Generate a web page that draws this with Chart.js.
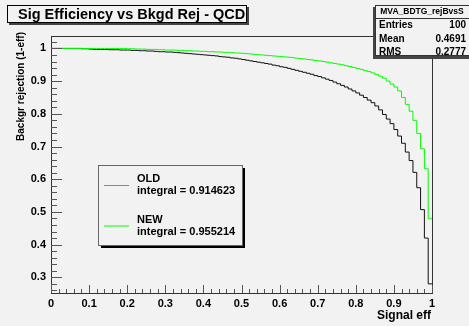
<!DOCTYPE html>
<html>
<head>
<meta charset="utf-8">
<script src="https://cdn.jsdelivr.net/npm/chart.js@4.4.1/dist/chart.umd.min.js"></script>
<style>
  html, body { margin: 0; padding: 0; background: #f2f2f2; }
</style>
</head>
<body>
<canvas id="rejChart" width="469" height="326"></canvas>
<script>
// histogram: 100 bins of signal efficiency, width 0.01
const BIN_WIDTH = 0.01;

const OLD_REJ = [
  1.000, 1.000, 1.000, 1.000, 1.000, 1.000, 1.000, 1.000, 0.999, 0.999,
  0.998, 0.997, 0.997, 0.997, 0.997, 0.996, 0.996, 0.996, 0.995, 0.995,
  0.995, 0.994, 0.994, 0.993, 0.993, 0.992, 0.992, 0.991, 0.990, 0.990,
  0.989, 0.989, 0.988, 0.987, 0.986, 0.985, 0.984, 0.983, 0.982, 0.981,
  0.980, 0.979, 0.978, 0.977, 0.975, 0.974, 0.973, 0.971, 0.970, 0.968,
  0.966, 0.964, 0.962, 0.960, 0.958, 0.956, 0.954, 0.952, 0.949, 0.947,
  0.944, 0.942, 0.939, 0.936, 0.933, 0.930, 0.927, 0.924, 0.921, 0.917,
  0.914, 0.910, 0.906, 0.902, 0.897, 0.892, 0.887, 0.882, 0.876, 0.870,
  0.864, 0.857, 0.850, 0.842, 0.834, 0.824, 0.812, 0.798, 0.784, 0.770,
  0.752, 0.732, 0.710, 0.683, 0.657, 0.621, 0.574, 0.507, 0.420, 0.280
];

const NEW_REJ = [
  1.000, 1.000, 1.000, 1.000, 1.000, 1.000, 1.000, 1.000, 1.000, 1.000,
  1.000, 1.000, 1.000, 1.000, 1.000, 1.000, 1.000, 1.000, 1.000, 1.000,
  0.999, 0.999, 0.998, 0.998, 0.998, 0.997, 0.997, 0.997, 0.996, 0.996,
  0.995, 0.995, 0.995, 0.994, 0.994, 0.993, 0.993, 0.992, 0.992, 0.991,
  0.991, 0.990, 0.990, 0.989, 0.989, 0.988, 0.988, 0.987, 0.986, 0.986,
  0.985, 0.984, 0.983, 0.982, 0.981, 0.980, 0.979, 0.978, 0.977, 0.976,
  0.975, 0.974, 0.973, 0.972, 0.970, 0.969, 0.968, 0.966, 0.965, 0.963,
  0.962, 0.960, 0.958, 0.956, 0.954, 0.952, 0.950, 0.947, 0.945, 0.942,
  0.939, 0.936, 0.932, 0.929, 0.925, 0.920, 0.915, 0.909, 0.900, 0.891,
  0.882, 0.870, 0.850, 0.829, 0.808, 0.780, 0.740, 0.693, 0.632, 0.479
];

const X_TICKS = [0, 0.1, 0.2, 0.3, 0.4, 0.5, 0.6, 0.7, 0.8, 0.9, 1];
const Y_TICKS = [0.3, 0.4, 0.5, 0.6, 0.7, 0.8, 0.9, 1];

const TITLE = "Sig Efficiency vs Bkgd Rej - QCD";
const X_TITLE = "Signal eff";
const Y_TITLE = "Backgr rejection (1-eff)";
const LEGEND_ITEMS = [
  { name: "OLD", text: "integral = 0.914623", color: "#888888" },
  { name: "NEW", text: "integral = 0.955214", color: "#00ff00" }
];
const STATS_NAME = "MVA_BDTG_rejBvsS";
const STATS_ROWS = [["Entries", "100"], ["Mean", "0.4691"], ["RMS", "0.2777"]];

const FONT = "'Liberation Sans', Arial, sans-serif";
const BG = "#f2f2f2";

// left bin edges plus closing edge at 1
function toSteps(values) {
  const pts = values.map((v, i) => ({ x: i * BIN_WIDTH, y: v }));
  pts.push({ x: values.length * BIN_WIDTH, y: values[values.length - 1] });
  return pts;
}

function fmt(v) {
  return String(+v.toFixed(1));
}

const rootDecor = {
  id: "rootDecor",
  afterDraw(chart) {
    const ctx = chart.ctx;
    const area = chart.chartArea;
    const xs = chart.scales.x;
    const ys = chart.scales.y;
    ctx.save();

    // frame
    ctx.strokeStyle = "#333";
    ctx.lineWidth = 1;
    ctx.strokeRect(Math.round(area.left) + 0.5, Math.round(area.top) + 0.5,
      Math.round(area.right - area.left), Math.round(area.bottom - area.top));

    // tick marks, pointing inward
    ctx.strokeStyle = "#555";
    ctx.beginPath();
    for (let k = 13; k <= 51; k++) {
      const y = Math.round(ys.getPixelForValue(k * 0.02)) + 0.5;
      const len = k % 5 === 0 ? 11 : 6;
      ctx.moveTo(area.left, y);
      ctx.lineTo(area.left + len, y);
    }
    for (let k = 0; k <= 50; k++) {
      const x = Math.round(xs.getPixelForValue(k * 0.02)) + 0.5;
      const len = k % 5 === 0 ? 8 : 4;
      ctx.moveTo(x, area.bottom);
      ctx.lineTo(x, area.bottom - len);
    }
    ctx.stroke();

    // axis titles
    ctx.fillStyle = "#000";
    ctx.font = "bold 12px " + FONT;
    ctx.textAlign = "right";
    ctx.textBaseline = "middle";
    ctx.fillText(X_TITLE, 431, 316);
    ctx.save();
    ctx.translate(21, 32);
    ctx.rotate(-Math.PI / 2);
    ctx.font = "bold 10px " + FONT;
    ctx.fillText(Y_TITLE, 0, 0);
    ctx.restore();

    // title box
    ctx.fillStyle = "#444";
    ctx.fillRect(9, 7, 240, 18);
    ctx.fillStyle = BG;
    ctx.fillRect(7, 5, 240, 18);
    ctx.strokeStyle = "#000";
    ctx.strokeRect(7.5, 5.5, 239, 17);
    ctx.fillStyle = "#000";
    ctx.font = "bold 14.5px " + FONT;
    ctx.textAlign = "left";
    ctx.textBaseline = "alphabetic";
    ctx.fillText(TITLE, 18, 19);

    // stats box
    ctx.fillStyle = "#444";
    ctx.fillRect(373, 7, 96, 52);
    ctx.fillStyle = BG;
    ctx.fillRect(375, 5, 95, 51);
    ctx.strokeStyle = "#333";
    ctx.strokeRect(375.5, 5.5, 95, 50);
    ctx.beginPath();
    ctx.moveTo(375, 18.5);
    ctx.lineTo(469, 18.5);
    ctx.stroke();
    ctx.fillStyle = "#000";
    ctx.textBaseline = "middle";
    ctx.textAlign = "center";
    ctx.font = "bold 8.5px " + FONT;
    ctx.fillText(STATS_NAME, 422, 12);
    ctx.font = "bold 10px " + FONT;
    STATS_ROWS.forEach((row, i) => {
      const y = 25.5 + i * 13.3;
      ctx.textAlign = "left";
      ctx.fillText(row[0], 379, y);
      ctx.textAlign = "right";
      ctx.fillText(row[1], 466, y);
    });

    // legend box
    ctx.fillStyle = "#000";
    ctx.fillRect(101, 168, 144, 80);
    ctx.fillStyle = BG;
    ctx.fillRect(98, 165, 144, 80);
    ctx.strokeStyle = "#666";
    ctx.strokeRect(98.5, 165.5, 144, 80);
    ctx.font = "bold 11px " + FONT;
    ctx.textAlign = "left";
    LEGEND_ITEMS.forEach((item, i) => {
      const y0 = 179 + i * 40.5;
      ctx.strokeStyle = item.color;
      ctx.beginPath();
      ctx.moveTo(104, y0 + 6.5);
      ctx.lineTo(129, y0 + 6.5);
      ctx.stroke();
      ctx.fillStyle = "#000";
      ctx.fillText(item.name, 137, y0);
      ctx.fillText(item.text, 137, y0 + 12);
    });

    ctx.restore();
  }
};

const chart = new Chart(document.getElementById("rejChart").getContext("2d"), {
  type: "line",
  data: {
    datasets: [
      {
        label: "NEW",
        data: toSteps(NEW_REJ),
        borderColor: "#00ff00",
        borderWidth: 1,
        pointRadius: 0,
        stepped: true,
        fill: false,
        order: 0
      },
      {
        label: "OLD",
        data: toSteps(OLD_REJ),
        borderColor: "#111",
        borderWidth: 1,
        pointRadius: 0,
        stepped: true,
        fill: false,
        order: 1
      }
    ]
  },
  options: {
    responsive: false,
    animation: false,
    layout: { padding: { top: 36, right: 37, left: 0, bottom: 0 } },
    plugins: {
      legend: { display: false },
      tooltip: { enabled: false }
    },
    scales: {
      x: {
        type: "linear",
        min: 0,
        max: 1,
        afterFit: s => { s.height = 33; },
        afterBuildTicks: s => { s.ticks = X_TICKS.map(v => ({ value: v })); },
        grid: { display: false, drawTicks: false },
        border: { display: false },
        ticks: {
          padding: 4,
          maxRotation: 0,
          autoSkip: false,
          color: "#000",
          font: { family: FONT, size: 11, weight: "bold" },
          callback: v => fmt(v)
        }
      },
      y: {
        type: "linear",
        min: 0.252,
        max: 1.038,
        afterFit: s => { s.width = 51; },
        afterBuildTicks: s => { s.ticks = Y_TICKS.map(v => ({ value: v })); },
        grid: { display: false, drawTicks: false },
        border: { display: false },
        ticks: {
          padding: 5,
          autoSkip: false,
          color: "#000",
          font: { family: FONT, size: 11, weight: "bold" },
          callback: v => fmt(v)
        }
      }
    }
  },
  plugins: [rootDecor]
});
</script>
</body>
</html>
